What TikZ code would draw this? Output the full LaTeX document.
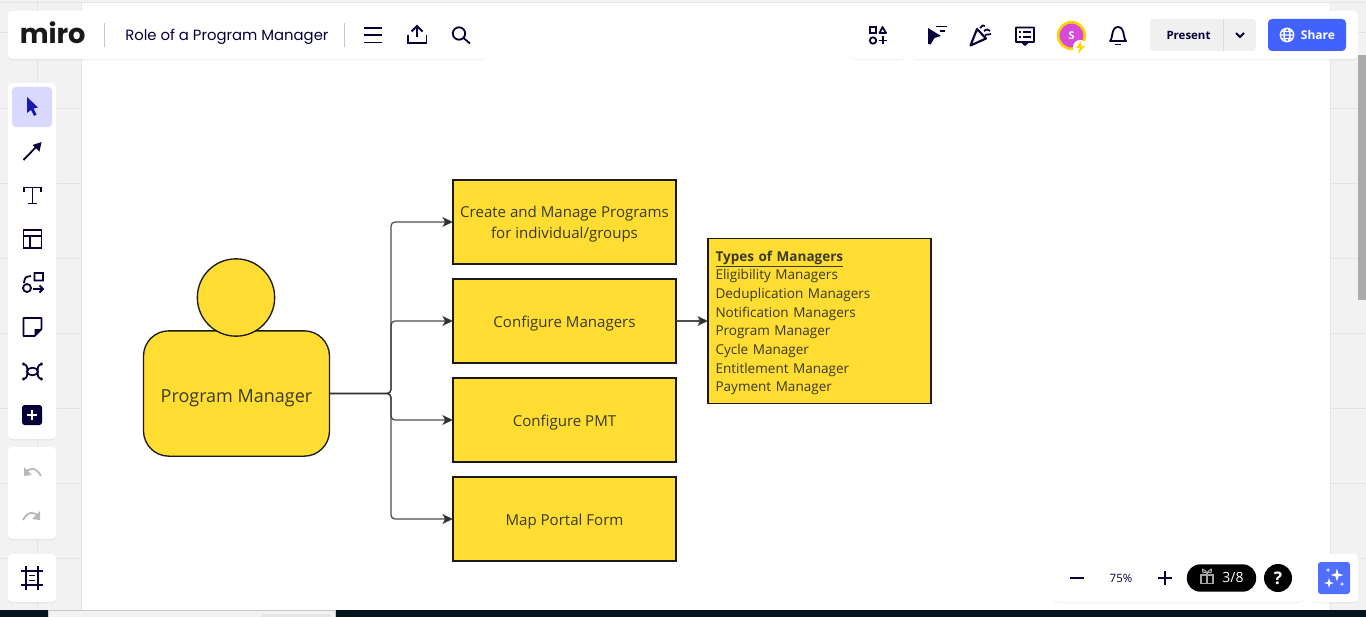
\documentclass[tikz,border=0pt]{standalone}
\usepackage{fontspec}
\setmainfont{Open Sans}
\newfontfamily\uifont{Poppins}
\usetikzlibrary{arrows.meta,positioning,shadows}
\definecolor{shapeyellow}{HTML}{FFDD33}
\definecolor{shapeline}{HTML}{1A1A1A}
\definecolor{shapetext}{HTML}{3B3A26}
\definecolor{linkgray}{HTML}{303030}
\definecolor{uinavy}{HTML}{050038}
\definecolor{canvasgray}{HTML}{F2F2F2}
\definecolor{gridgray}{HTML}{E4E4E4}
\definecolor{uiblue}{HTML}{4262FF}
\definecolor{barblack}{HTML}{03141F}
\tikzset{
	shapebox/.style = {shape=rectangle, draw=shapeline, fill=shapeyellow, line width=1pt,
		minimum width=167.25pt, minimum height=63pt, outer sep=0pt, inner sep=0pt,
		align=center, text=shapetext, text height=10pt, text depth=0pt, font=\fontsize{11.3pt}{15.6pt}\selectfont},
	link/.style = {draw=linkgray, draw opacity=.85, line width=.95pt, rounded corners=3pt,
		-{Stealth[length=8pt,width=7.5pt,inset=2pt]}},
	panel/.style = {fill=white, draw=none, rounded corners=3pt,
		copy shadow={draw=none, fill=black, opacity=.05, shadow xshift=0pt, shadow yshift=-1pt}},
	icon/.style = {draw=uinavy, line width=1.35pt, fill=none},
	dimicon/.style = {draw=black!28, line width=1.35pt, fill=none},
	uitext/.style = {inner sep=0pt, text=uinavy}
}
\newcommand{\sparkle}[3]{\fill[white] (#1-#3,#2) -- (#1-.22*#3,#2-.22*#3) -- (#1,#2-#3) -- (#1+.22*#3,#2-.22*#3) -- (#1+#3,#2) -- (#1+.22*#3,#2+.22*#3) -- (#1,#2+#3) -- (#1-.22*#3,#2+.22*#3) -- cycle;}
\begin{document}
\begin{tikzpicture}[x=.75pt, y=-.75pt]
	\useasboundingbox (0,0) rectangle (1366,617);
	%canvas and its margins
	\fill[canvasgray] (0,0) rectangle (1366,617);
	\foreach \gridy in {33,108,183,258,333,408,483,558}{
		\draw[gridgray, line width=.75pt] (0,\gridy) -- (81,\gridy);
		\draw[gridgray, line width=.75pt] (1330,\gridy) -- (1366,\gridy);
	}
	\draw[gridgray, line width=.75pt] (37.5,0) -- (37.5,610);
	\fill[white] (81,3) rectangle (1330,610);
	\draw[gridgray, line width=.75pt] (0,2.5) -- (1366,2.5);
	\draw[gridgray, line width=.75pt] (81,3) -- (81,610);
	\draw[gridgray, line width=.75pt] (1330,3) -- (1330,610);
	\fill[black!33] (1358,55) rectangle (1366,300);
	%bottom strip
	\fill[barblack] (0,610) rectangle (1366,617);
	\fill[canvasgray] (48,611) rectangle (336,617);
	\draw[black!22, line width=.75pt] (48.5,617) -- (48.5,610.5) -- (335.5,610.5) -- (335.5,617);
	\fill[black!10, rounded corners=2pt] (261,614) rectangle (331,620);
	%person
	\node[shapebox, minimum width=139.5pt, minimum height=94pt, rounded corners=19pt, text height=13pt,
		font=\fontsize{13.5pt}{16pt}\selectfont] (body) at (236.5,393.5) {Program Manager};
	\node[shape=circle, draw=shapeline, fill=shapeyellow, line width=1pt, minimum size=58pt,
		inner sep=0pt, outer sep=0pt] (head) at (236,297.5) {};
	%boxes
	\node[shapebox, text height=, text depth=-2pt] (create) at (564.5,222) {Create and Manage Programs\\for individual/groups};
	\node[shapebox, below=11.25pt of create] (configure) {Configure Managers};
	\node[shapebox, below=11.25pt of configure] (pmt) {Configure PMT};
	\node[shapebox, below=11.25pt of pmt] (portal) {Map Portal Form};
	\node[shapebox, text height=, text depth=, minimum height=123.5pt, right=24pt of configure, align=left, text width=156pt,
		font=\fontsize{10.15pt}{14pt}\selectfont] (types) {\rule{0pt}{10.7pt}\textbf{\underline{Types of Managers}}\\
		Eligibility Managers\\
		Deduplication Managers\\
		Notification Managers\\
		Program Manager\\
		Cycle Manager\\
		Entitlement Manager\\
		Payment Manager};
	%links
	\coordinate (branch) at (391,393.5);
	\foreach \target in {create,configure,pmt,portal}{
		\draw[link] (body.east) -- (branch) |- (\target.west);
	}
	\draw[link] (configure.east) -- (types.west);
	%top left panel
	\node[panel, minimum width=357.75pt, minimum height=36pt, inner sep=0pt] (toppanel) at (246.5,35) {};
	\node[inner sep=0pt, anchor=base west, text=black!90, font=\uifont\bfseries\fontsize{20.4pt}{21pt}\selectfont] (logo) at (19.5,43.5) {miro};
	\draw[black!22, line width=.75pt] (104.5,23) -- (104.5,47);
	\node[uitext, anchor=base west, font=\uifont\fontsize{11.13pt}{14pt}\selectfont] (title) at (125,41) {Role of a Program Manager};
	\draw[black!22, line width=.75pt] (344.5,23) -- (344.5,47);
	\draw[icon] (364,28) -- (382,28) (364,35) -- (382,35) (364,42.5) -- (382,42.5);
	\draw[icon] (408,35) -- (408,43) -- (426.5,43) -- (426.5,35);
	\draw[icon] (417,37) -- (417,27) (411.5,31.5) -- (417,26) -- (422.5,31.5);
	\draw[icon] (459,33.5) circle (6.2) (463.5,38) -- (470,43.5);
	%top right panels
	\node[panel, minimum width=39pt, minimum height=36pt, inner sep=0pt] (shapespanel) at (878,35) {};
	\node[panel, minimum width=333.75pt, minimum height=36pt, inner sep=0pt] (toolspanel) at (1135.5,35) {};
	\draw[icon] (870,27) rectangle (876,33) (873,40.5) circle (3.2);
	\draw[icon, line join=round] (879.5,33) -- (882.5,27) -- (886,33) -- cycle;
	\draw[icon] (878.5,40.5) -- (887,40.5) (882.7,36.5) -- (882.7,44.5);
	\fill[uinavy] (928,28) -- (941,36) -- (934.5,38) -- (930.5,44.5) -- (928,44) -- cycle;
	\draw[icon] (936,26.5) -- (947,26.5) (939.5,31) -- (945,31);
	\draw[icon, line width=1.6pt, line join=round] (970.5,45.5) -- (977,29) -- (986,38.5) -- cycle;
	\draw[icon] (980,28) .. controls (983,25) .. (985,26) (984,31) .. controls (987,29) .. (990,31) (985,35) -- (991,34);
	\draw[icon, line join=round] (1016,27.5) rectangle (1034,42) (1022,42) -- (1025,45) -- (1028,42);
	\draw[icon, line width=1pt] (1019,32) -- (1021,32) (1023,32) -- (1031,32) (1019,37) -- (1021,37) (1023,37) -- (1031,37);
	\node[shape=circle, fill=black!0!violet!45!magenta!70!white, draw=yellow!70!orange, line width=2pt, minimum size=20pt, inner sep=0pt,
		text=white, font=\fontsize{8pt}{10pt}\selectfont\bfseries] (avatar) at (1071.5,35.5) {S};
	\fill[white] (1080,47) circle (7);
	\fill[yellow!75!orange] (1081,41) -- (1076,48) -- (1079.5,48) -- (1078,54) -- (1085,46) -- (1081.5,46) -- cycle;
	\draw[icon, line join=round] (1110,41) .. controls (1113,39) and (1111,27) .. (1118,27) .. controls (1125,27) and (1123,39) .. (1126,41) -- cycle;
	\draw[icon] (1115,44.5) -- (1121,44.5);
	\node[fill=black!6, rounded corners=3pt, minimum width=79.5pt, minimum height=24pt, inner sep=0pt] (present) at (1203,35) {};
	\draw[black!14, line width=.75pt] (1223.5,19) -- (1223.5,51);
	\node[uitext, font=\fontsize{8.6pt}{10pt}\selectfont\bfseries] (presentlabel) at (1188.5,35) {Present};
	\draw[icon, line width=1.5pt] (1236,33) -- (1240,37) -- (1244,33);
	\node[fill=uiblue, rounded corners=3pt, minimum width=58.5pt, minimum height=24pt, inner sep=0pt] (share) at (1307,35) {};
	\draw[white, line width=1pt] (1287,35) circle (6.7) (1280.3,35) -- (1293.7,35) (1287,35) ellipse (3 and 6.7) (1281,31.5) -- (1293,31.5) (1281,38.5) -- (1293,38.5);
	\node[inner sep=0pt, text=white, font=\fontsize{9pt}{10pt}\selectfont\bfseries] (sharelabel) at (1318,35) {Share};
	%left toolbar
	\node[panel, minimum width=36pt, minimum height=267pt, inner sep=0pt] (toolbar) at (32,261) {};
	\node[panel, minimum width=36pt, minimum height=69pt, inner sep=0pt] (historybar) at (32,493) {};
	\node[panel, minimum width=36pt, minimum height=36pt, inner sep=0pt] (framebar) at (32,578) {};
	\node[fill=blue!15!white, rounded corners=3pt, minimum size=30pt, inner sep=0pt] (selecttool) at (32,107) {};
	\fill[blue!65!black!90!white] (27,97) -- (38,107.5) -- (33.5,108.5) -- (36.5,114.5) -- (34,116) -- (31,110) -- (27,113) -- cycle;
	\draw[icon] (23.5,160) -- (38,145);
	\fill[uinavy] (41.5,142) -- (39.5,151.5) -- (32.5,145) -- cycle;
	\draw[icon] (24,192) -- (24,187.5) -- (41,187.5) -- (41,192) (32.5,187.5) -- (32.5,203.5) (28,203.5) -- (37,203.5);
	\draw[icon] (23.5,230) rectangle (41.5,248) (23.5,236) -- (41.5,236) (30,236) -- (30,248);
	\draw[icon] (34.5,273) rectangle (43,280.5) (27,288) circle (4) (33,289) -- (43,289) (39.5,285.5) -- (43,289) -- (39.5,292.5);
	\draw[icon] (24,283) .. controls (25,277) .. (31,276);
	\draw[icon, line join=round] (23.5,318) -- (41.5,318) -- (41.5,329) -- (34.5,336) -- (23.5,336) -- cycle;
	\fill[uinavy] (41.5,329) -- (34.5,336) -- (34.5,329) -- cycle;
	\draw[icon] (32.5,371.5) ellipse (5.5 and 3.8);
	\draw[icon] (23.5,364) .. controls (28,365) and (27,369) .. (27.5,371) (41.5,364) .. controls (37,365) and (38,369) .. (37.5,371);
	\draw[icon] (23.5,379) .. controls (28,378) and (27,374) .. (27.5,372) (41.5,379) .. controls (37,378) and (38,374) .. (37.5,372);
	\fill[uinavy] (23.5,364) circle (1.7) (41.5,364) circle (1.7) (23.5,379) circle (1.7) (41.5,379) circle (1.7);
	\node[fill=uinavy, rounded corners=2pt, minimum size=15pt, inner sep=0pt] (addtool) at (32,415) {};
	\draw[white, line width=1.5pt] (27,415) -- (37,415) (32,410) -- (32,420);
	\draw[dimicon] (25,473) .. controls (30,467) and (36,467) .. (41,476);
	\fill[black!28] (24,467) -- (24,476) -- (32,475) -- cycle;
	\draw[dimicon] (39,517) .. controls (34,511) and (28,511) .. (23,520);
	\fill[black!28] (40,511) -- (40,520) -- (32,519) -- cycle;
	\draw[icon] (21,571) -- (43,571) (21,585) -- (43,585) (26,566) -- (26,590) (38,566) -- (38,590) (29,575.5) -- (35,575.5) (29,580.5) -- (35,580.5);
	%bottom right panels
	\node[panel, minimum width=187.5pt, minimum height=36pt, inner sep=0pt] (zoompanel) at (1178,578) {};
	\node[panel, minimum width=36pt, minimum height=36pt, inner sep=0pt] (aipanel) at (1334,578) {};
	\draw[icon, line width=1.6pt] (1070,578) -- (1084,578) (1158,578) -- (1172,578) (1165,571) -- (1165,585);
	\node[uitext, font=\fontsize{8.6pt}{10pt}\selectfont] (zoomlabel) at (1121,578) {75\%};
	\node[fill=black, rounded corners=10pt, minimum width=52pt, minimum height=20.5pt, inner sep=0pt] (giftpill) at (1221.5,578) {};
	\draw[white!65!black, line width=1pt] (1201,575) rectangle (1213,583.5) (1200.5,575) -- (1213.5,575) (1207,572) -- (1207,583.5);
	\draw[white!65!black, line width=.8pt] (1207,572.5) .. controls (1202,568) .. (1203,572.5) -- (1207,572.5) .. controls (1212,568) .. (1211,572.5) -- (1207,572.5);
	\node[inner sep=0pt, text=white, font=\fontsize{10.5pt}{12pt}\selectfont] (giftcount) at (1233,577.5) {3/8};
	\node[shape=circle, fill=black, minimum size=21pt, inner sep=0pt, text=white, font=\fontsize{13pt}{14pt}\selectfont\bfseries] (helpbutton) at (1278,578) {?};
	\node[fill=uiblue!92!white, rounded corners=2pt, minimum size=24pt, inner sep=0pt] (aibutton) at (1334,578) {};
	\sparkle{1337}{575}{6.5}
	\sparkle{1329}{583}{5}
	\sparkle{1328}{570}{2.5}
	\sparkle{1342}{584}{2.5}
\end{tikzpicture}
\end{document}
